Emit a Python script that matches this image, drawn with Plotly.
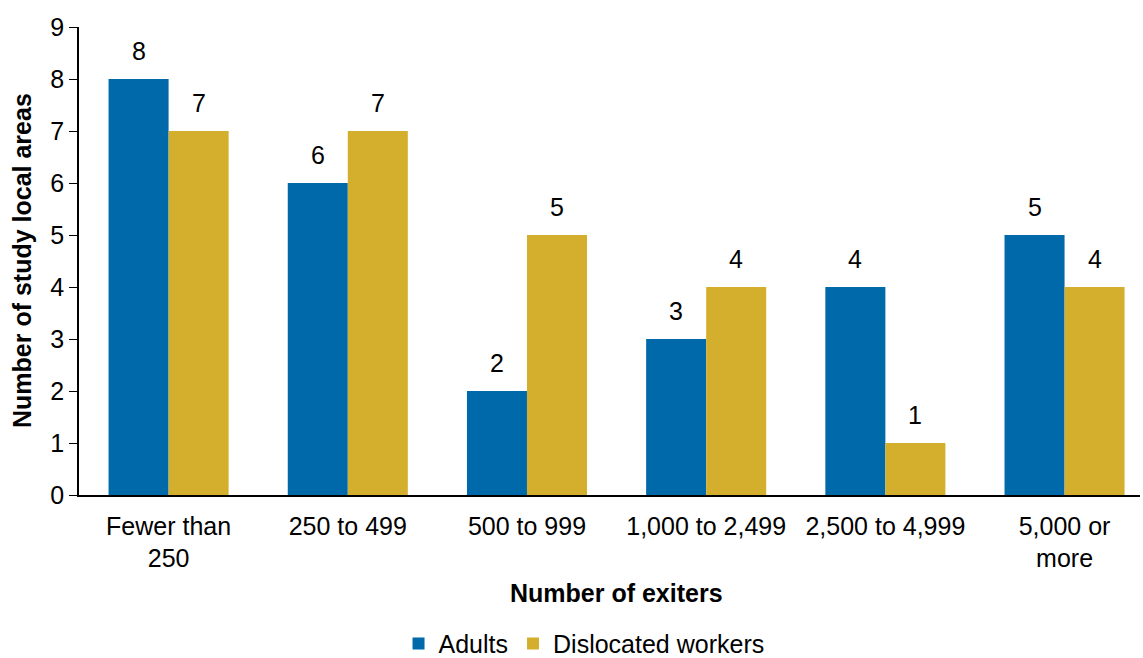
import plotly.graph_objects as go

categories = ["Fewer than<br>250", "250 to 499", "500 to 999", "1,000 to 2,499", "2,500 to 4,999", "5,000 or<br>more"]
adults = [8, 6, 2, 3, 4, 5]
dislocated = [7, 7, 5, 4, 1, 4]
y_ticks = [0, 1, 2, 3, 4, 5, 6, 7, 8, 9]

FONT = "Liberation Sans, Arial, sans-serif"
FS = 25
HALF_BAR_PX = 30

fig = go.Figure()
fig.add_bar(x=categories, y=adults, name="Adults", marker_color="#0069AA",
            marker_line_width=0)
fig.add_bar(x=categories, y=dislocated, name="Dislocated workers", marker_color="#D4AF2E",
            marker_line_width=0)

annotations = []
for series, shift in ((adults, -HALF_BAR_PX), (dislocated, HALF_BAR_PX)):
    for cat, val in zip(categories, series):
        annotations.append(dict(x=cat, y=val, xref="x", yref="y", text=str(val),
                                showarrow=False, xanchor="center", yanchor="bottom",
                                xshift=shift, yshift=12, font=dict(size=FS, color="black")))

annotations += [
    dict(text="<b>Number of exiters</b>", xref="paper", yref="paper", x=0.507, y=-0.2094,
         xanchor="center", yanchor="middle", showarrow=False, font=dict(size=FS)),
    dict(text="<b>Number of study local areas</b>", xref="paper", yref="paper", x=-0.0537, y=0.5,
         xanchor="center", yanchor="middle", textangle=-90, showarrow=False, font=dict(size=FS)),
]

fig.update_layout(
    width=1143, height=658,
    margin=dict(l=79, r=3, t=27, b=163, autoexpand=False),
    paper_bgcolor="white", plot_bgcolor="white",
    barmode="group", bargap=0.33, bargroupgap=0,
    font=dict(family=FONT, size=FS, color="black"),
    showlegend=True,
    legend=dict(orientation="h", x=0.476, xanchor="center", y=-0.318, yanchor="middle",
                font=dict(size=FS), itemwidth=30, traceorder="normal", tracegroupgap=0),
    xaxis=dict(showline=True, linecolor="black", linewidth=1.5, ticks="", automargin=False,
               range=[-0.5, 5.421], tickfont=dict(size=FS), ticklabelstandoff=8),
    yaxis=dict(range=[0, 9], tickvals=y_ticks, showgrid=False, zeroline=False, automargin=False,
               showline=True, linecolor="black", linewidth=1.5, ticks="outside", ticklen=8,
               tickcolor="black", tickfont=dict(size=FS)),
    annotations=annotations,
)

fig.write_html("out.html", config={"displayModeBar": False},
               post_script="document.body.style.margin='0';document.body.style.overflow='hidden';")
